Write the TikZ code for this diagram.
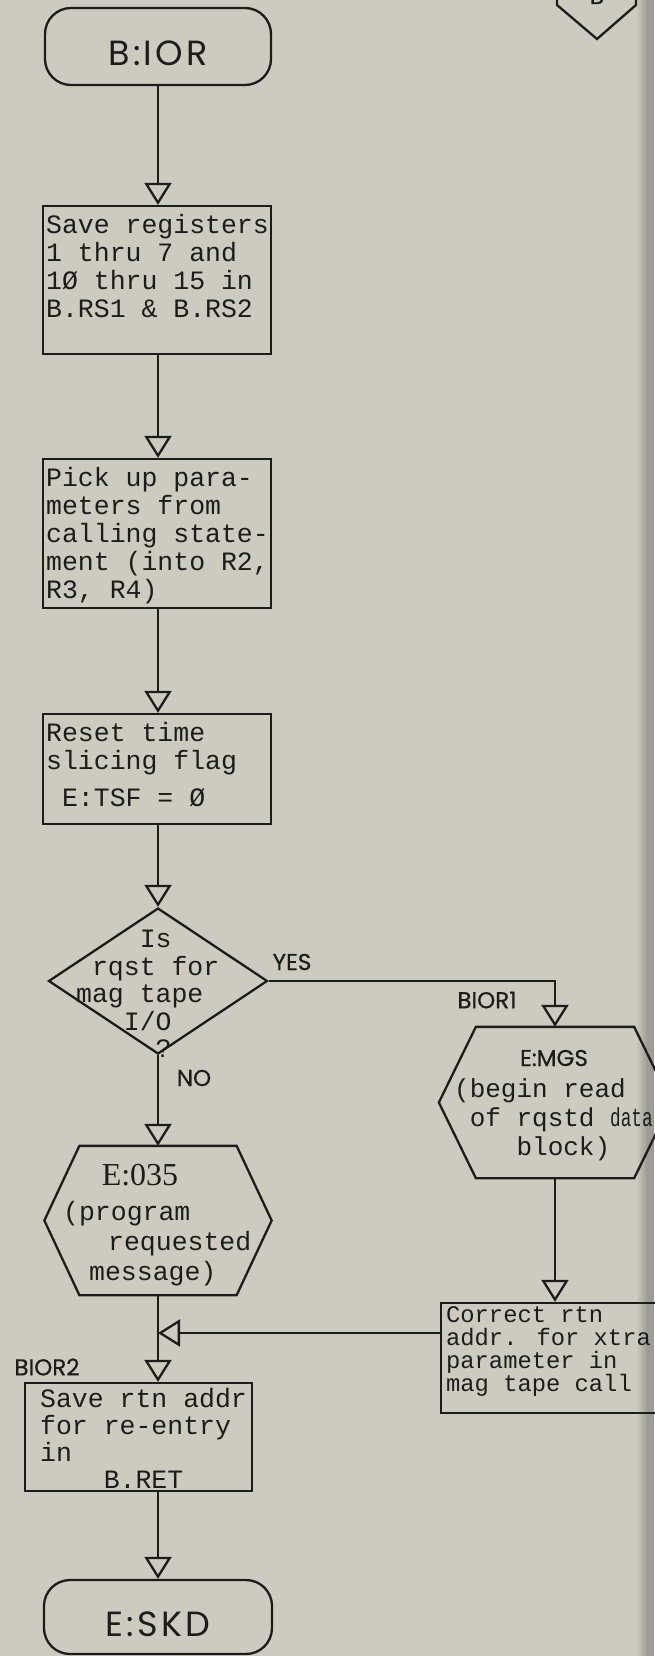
\documentclass[tikz,border=0pt]{standalone}
\usepackage{fontspec}
\usepackage{tikz}
\usetikzlibrary{arrows.meta,shapes.geometric}
\newfontfamily\typefont{Liberation Mono}
\newfontfamily\gothfont{Poppins}[FakeBold=0.6]
\newfontfamily\termfont{Poppins}[LetterSpace=9]
\newfontfamily\numfont{Liberation Serif}
\definecolor{paper}{RGB}{205,203,192}
\definecolor{scanedge}{RGB}{158,156,148}
\definecolor{ink}{RGB}{28,28,28}

\begin{document}
\begin{tikzpicture}[x=1pt, y=-1pt, line width=2.3pt, color=ink,
	>={Triangle[open,length=22pt,width=27pt]},
	term/.style={draw, rounded corners=26pt, inner sep=0pt, font=\termfont\fontsize{35}{35}\selectfont, text height=39pt, text depth=0pt},
	proc/.style={draw, inner sep=0pt},
	hexa/.style={inner sep=0pt},
	cond/.style={draw, diamond, inner sep=0pt},
	mono/.style={inner sep=0pt, align=left, anchor=north west, font=\typefont\fontsize{26.5}{28}\selectfont},
	tag/.style={inner sep=0pt, font=\gothfont\fontsize{23}{23}\selectfont}]
	\useasboundingbox (0,0) rectangle (654,1656);
	\fill[paper] (0,0) rectangle (654,1656);
	\shade[left color=paper, right color=scanedge] (636,0) rectangle (647,1656);
	\fill[scanedge] (647,0) rectangle (654,1656);

	% off-page connector, top right
	\draw (557,-20) -- (557,5) -- (597,39) -- (636,5) -- (636,-20);
	\node[tag, anchor=base] (offpage) at (597,4) {B};

	% main column
	\node[term, minimum width=226pt, minimum height=77pt] (ior) at (158,46.5) {B:IOR};
	\node[proc, minimum width=228pt, minimum height=148pt] (save) at (157,280) {};
	\node[mono] (save-txt) at (45,213) {Save registers\\1 thru 7 and\\1Ø thru 15 in\\B.RS1 \& B.RS2};
	\node[proc, minimum width=228pt, minimum height=149pt] (pick) at (157,533.5) {};
	\node[mono] (pick-txt) at (45,466) {Pick up para-\\meters from\\calling state-\\ment (into R2,\\R3, R4)};
	\node[proc, minimum width=228pt, minimum height=110pt] (reset) at (157,769) {};
	\node[mono] (reset-txt) at (45,721) {Reset time\\slicing flag\\[9pt]\hphantom{0}E:TSF = Ø};
	\node[cond, minimum width=219pt, minimum height=146pt] (query) at (158,981) {};
	\node[mono, font=\typefont\fontsize{26.5}{27.5}\selectfont] (query-txt) at (75,929) {\hphantom{0000}Is\\\hphantom{0}rqst for\\mag tape\\\hphantom{000}I/O\\\hphantom{00000}?};
	\foreach \a/\b in {ior/save, save/pick, pick/reset, reset/query}
		\draw[->] (\a.south -| ior) -- (\b.north -| ior);

	% yes branch
	\node[tag] (yes) at (292,962) {YES};
	\node[tag] (bior1) at (487,1000) {BIOR1};
	\node[hexa, minimum width=230pt, minimum height=149pt] (mgs) at (555,1102.5) {};
	\draw (mgs.west) -- ([xshift=37pt]mgs.north west) -- ([xshift=-37pt]mgs.north east) -- (mgs.east) -- ([xshift=-37pt]mgs.south east) -- ([xshift=37pt]mgs.south west) -- cycle;
	\node[tag] (mgs-name) at (554,1058) {E:MGS};
	\node[mono, font=\typefont\fontsize{26}{29}\selectfont] (mgs-txt) at (453,1077) {(begin read\\\hphantom{0}of rqstd \scalebox{0.68}[1]{data}\\\hphantom{0000}block)};
	\draw[->] (query.east) -| (mgs.north);
	\node[proc, minimum width=259pt, minimum height=110pt] (fix) at (570.5,1358) {};
	\node[mono, font=\typefont\fontsize{23.8}{23}\selectfont] (fix-txt) at (445,1305) {Correct rtn\\addr. for xtra\\parameter in\\mag tape call};
	\draw[->] (mgs.south) -- (mgs.south |- fix.north);

	% no branch
	\node[tag] (no) at (194,1078) {NO};
	\node[hexa, minimum width=225pt, minimum height=147pt] (e035) at (158,1220.5) {};
	\draw (e035.west) -- ([xshift=35pt]e035.north west) -- ([xshift=-35pt]e035.north east) -- (e035.east) -- ([xshift=-35pt]e035.south east) -- ([xshift=35pt]e035.south west) -- cycle;
	\node[inner sep=0pt, font=\numfont\fontsize{32}{32}\selectfont] (e035-name) at (140,1175) {E:035};
	\node[mono, font=\typefont\fontsize{26.5}{30}\selectfont] (e035-txt) at (62,1200) {(program\\\hspace*{45pt}requested\\\hspace*{26pt}message)};
	\draw[->] (query.south) -- (query.south |- e035.north);

	% merge and exit
	\coordinate (merge) at (158,1333);
	\draw[->] (fix.west |- merge) -- (merge);
	\node[tag] (bior2) at (47,1367) {BIOR2};
	\node[proc, minimum width=227pt, minimum height=108pt] (ret) at (138.5,1437) {};
	\node[mono, font=\typefont\fontsize{26.5}{27}\selectfont] (ret-txt) at (39,1387) {Save rtn addr\\for re-entry\\in\\\hphantom{0000}B.RET};
	\node[term, minimum width=228pt, minimum height=74pt] (skd) at (158,1617) {E:SKD};
	\draw[->] (e035.south -| merge) -- (merge |- ret.north);
	\draw[->] (ret.south -| merge) -- (merge |- skd.north);
\end{tikzpicture}
\end{document}
